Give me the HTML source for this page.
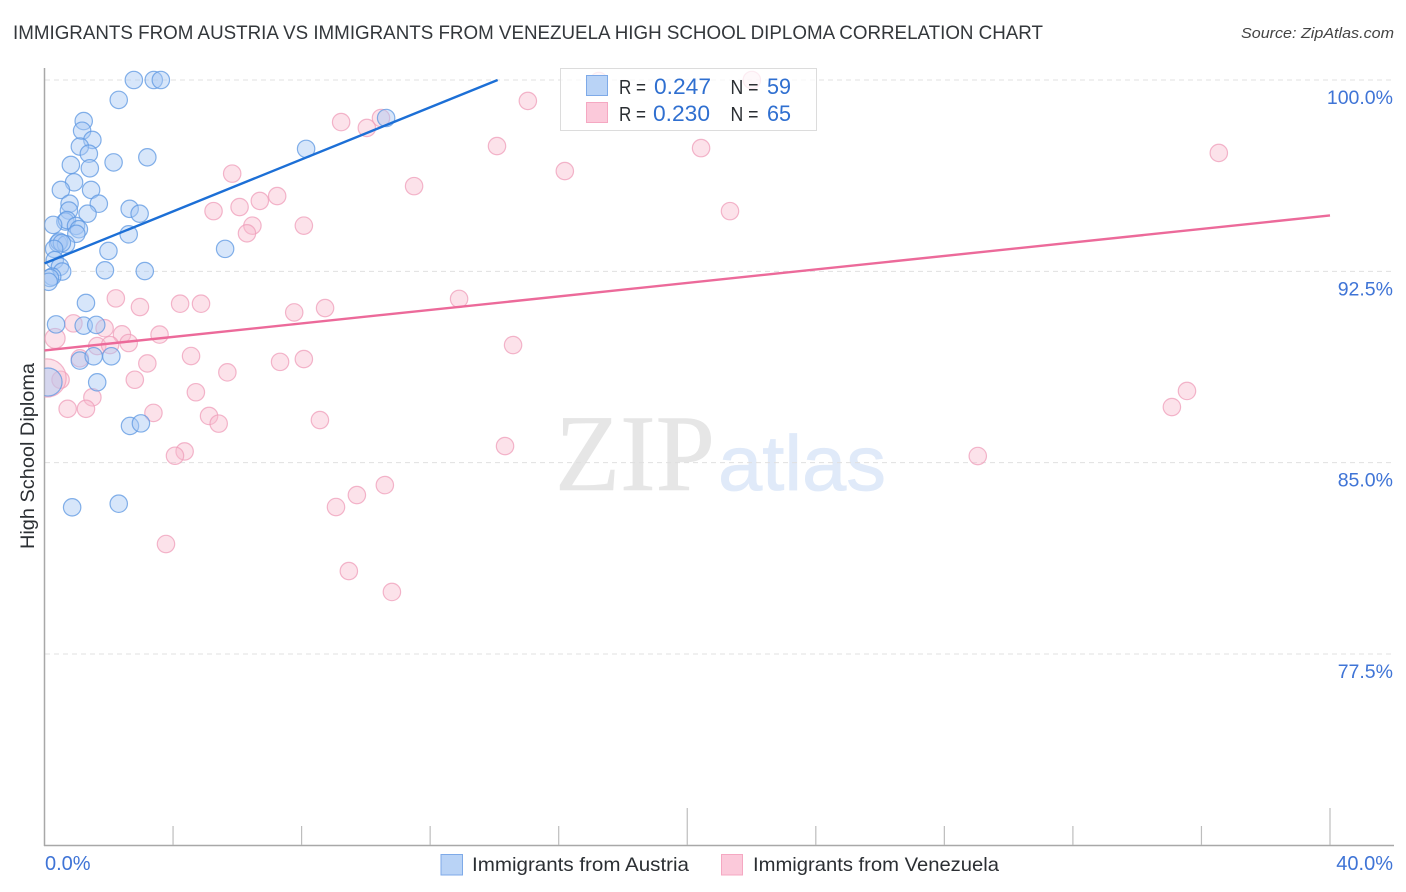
<!DOCTYPE html>
<html lang="en">
<head>
<meta charset="utf-8">
<title>Immigrants from Austria vs Immigrants from Venezuela High School Diploma Correlation Chart</title>
<style>
html,body{margin:0;padding:0;background:#fff;width:1406px;height:892px;overflow:hidden}
svg{display:block;font-family:"Liberation Sans",sans-serif}
</style>
</head>
<body>
<svg id="chart" width="1406" height="892" viewBox="0 0 1406 892" xmlns="http://www.w3.org/2000/svg">
  <defs>
    <clipPath id="plot-clip"><rect x="44.5" y="60" width="1350" height="785"/></clipPath>
  </defs>
  <rect x="0" y="0" width="1406" height="892" fill="#fff"/>
  <text x="13" y="39" font-size="19" fill="#33373b" textLength="1030" lengthAdjust="spacingAndGlyphs">IMMIGRANTS FROM AUSTRIA VS IMMIGRANTS FROM VENEZUELA HIGH SCHOOL DIPLOMA CORRELATION CHART</text>
  <text x="1394" y="38" font-size="15" font-style="italic" fill="#444" text-anchor="end" textLength="153" lengthAdjust="spacingAndGlyphs">Source: ZipAtlas.com</text>

  <g>
    <text x="555" y="490" font-family="'Liberation Serif',serif" font-size="109" fill="#e6e6e6" stroke="#e6e6e6" stroke-width="0.6" textLength="160" lengthAdjust="spacingAndGlyphs">ZIP</text>
    <text x="718" y="490" font-family="'Liberation Sans',sans-serif" font-size="78" fill="#e0eaf9" stroke="#e0eaf9" stroke-width="0.8" textLength="168" lengthAdjust="spacingAndGlyphs">atlas</text>
  </g>

  <g id="grid"></g>
  <g id="axes"></g>
  <g id="marks" clip-path="url(#plot-clip)"></g>
  <g id="trends"></g>

  <text transform="translate(34,456) rotate(-90)" font-size="19.5" fill="#2b2f33" text-anchor="middle" textLength="186" lengthAdjust="spacingAndGlyphs">High School Diploma</text>

  <g>
    <rect x="560.5" y="68.5" width="256" height="62" fill="#fff" fill-opacity="0.75" stroke="#dcdcdc" stroke-width="1"/>
    <rect x="586.5" y="75.5" width="21" height="20" fill="#b9d3f6" stroke="#7eaae8" stroke-width="1"/>
    <rect x="586.5" y="102.5" width="21" height="20" fill="#fbc9da" stroke="#f5a8c2" stroke-width="1"/>
    <text x="619" y="94" font-size="20" fill="#2b2f33" textLength="27" lengthAdjust="spacingAndGlyphs">R =</text>
    <text x="654" y="94" font-size="22" fill="#2f6fd0" textLength="57" lengthAdjust="spacingAndGlyphs">0.247</text>
    <text x="730.5" y="94" font-size="20" fill="#2b2f33" textLength="28" lengthAdjust="spacingAndGlyphs">N =</text>
    <text x="767" y="94" font-size="22" fill="#2f6fd0" textLength="24" lengthAdjust="spacingAndGlyphs">59</text>
    <text x="619" y="121" font-size="20" fill="#2b2f33" textLength="27" lengthAdjust="spacingAndGlyphs">R =</text>
    <text x="653" y="121" font-size="22" fill="#2f6fd0" textLength="57" lengthAdjust="spacingAndGlyphs">0.230</text>
    <text x="730.5" y="121" font-size="20" fill="#2b2f33" textLength="28" lengthAdjust="spacingAndGlyphs">N =</text>
    <text x="767" y="121" font-size="22" fill="#2f6fd0" textLength="24" lengthAdjust="spacingAndGlyphs">65</text>
  </g>

  <g>
    <rect x="441" y="854.5" width="21.5" height="20.5" fill="#b9d3f6" stroke="#7eaae8" stroke-width="1"/>
    <text x="472" y="871" font-size="19.5" fill="#2b2f33" textLength="217" lengthAdjust="spacingAndGlyphs">Immigrants from Austria</text>
    <rect x="721.5" y="854.5" width="21" height="20.5" fill="#fbc9da" stroke="#f5a8c2" stroke-width="1"/>
    <text x="753" y="871" font-size="19.5" fill="#2b2f33" textLength="246" lengthAdjust="spacingAndGlyphs">Immigrants from Venezuela</text>
  </g>
</svg>
<script>
const austriaX = [2.78,3.40,3.62,2.31,1.22,1.17,1.49,1.10,1.38,2.15,3.20,0.82,1.41,0.92,0.51,1.45,1.69,0.78,0.76,1.34,2.65,2.96,0.65,0.70,0.27,0.98,1.07,0.99,2.62,0.42,0.46,0.67,0.54,0.30,1.99,5.62,0.32,0.48,0.55,1.88,3.12,0.24,0.17,0.13,1.29,0.36,1.22,1.61,1.10,1.53,2.08,1.64,2.66,3.00,0.86,2.31,8.14,10.63,0.11];
const austriaY = [100,100,100,99.22,98.39,98.01,97.65,97.39,97.11,96.77,96.97,96.67,96.54,95.99,95.69,95.69,95.15,95.15,94.88,94.76,94.95,94.76,94.45,94.51,94.32,94.28,94.15,93.97,93.95,93.60,93.66,93.56,93.61,93.38,93.30,93.38,92.94,92.68,92.49,92.54,92.51,92.29,92.24,92.09,91.26,90.42,90.37,90.40,89.00,89.17,89.17,88.15,86.44,86.54,83.25,83.39,97.30,98.51,88.16];
const austriaWeight = [1,1,1,1,1,1,1,1,1,1,1,1,1,1,1,1,1,1,1,1,1,1,1,1,1,1,1,1,1,1,1,1,1,1,1,1,1,1,1,1,1,1,1,1,1,1,1,1,1,1,1,1,1,1,1,1,1,1,2.6];

const venezuelaX = [5.84,5.26,6.07,6.70,7.24,6.47,6.30,8.07,2.22,2.97,4.22,4.87,7.77,0.90,1.87,2.41,3.58,0.33,1.64,2.04,2.62,1.10,3.20,4.56,5.69,7.33,8.07,2.81,0.50,4.71,1.49,0.72,1.29,3.39,5.12,5.42,4.36,4.06,0.08,22.01,17.25,20.43,15.04,14.08,16.19,11.50,9.23,10.03,10.47,12.90,14.58,8.73,14.33,8.57,36.54,21.33,35.55,35.08,29.04,10.59,9.72,9.07,3.78,9.47,10.81];
const venezuelaY = [96.33,94.86,95.02,95.26,95.45,94.29,93.99,94.29,91.44,91.10,91.23,91.23,90.89,90.46,90.27,90.03,90.02,89.87,89.57,89.61,89.69,89.09,88.89,89.18,88.54,88.95,89.06,88.25,88.25,87.76,87.56,87.11,87.11,86.95,86.83,86.53,85.44,85.27,88.32,100,99.96,97.33,99.18,97.41,96.43,95.84,98.35,98.12,98.51,91.42,89.61,91.06,85.65,86.67,97.14,94.86,87.81,87.18,85.26,84.12,83.73,83.26,81.81,80.75,79.93];
const venezuelaWeight = [1,1,1,1,1,1,1,1,1,1,1,1,1,1,1,1,1,1.32,1,1,1,1,1,1,1,1,1,1,1,1,1,1,1,1,1,1,1,1,4.8,1,1,1,1,1,1,1,1,1,1,1,1,1,1,1,1,1,1,1,1,1,1,1,1,1,1];

const austriaTrendX = [0, 14.1];
const austriaTrendY = [92.81, 100];
const venezuelaTrendX = [0, 40];
const venezuelaTrendY = [89.40, 94.69];

const yTicks = [100, 92.5, 85, 77.5];
const yTickLabels = ['100.0%', '92.5%', '85.0%', '77.5%'];
const xTicks = [0, 4, 8, 12, 16, 20, 24, 28, 32, 36, 40];
const xMajorTicks = [20, 40];
const xEndLabels = ['0.0%', '40.0%'];

const SVGNS = 'http://www.w3.org/2000/svg';
function xScale(v) { return 44.5 + v * 32.1375; }
function yScale(v) { return 80 + (100 - v) * 25.51; }
function make(parent, tag, attrs, text) {
  const el = document.createElementNS(SVGNS, tag);
  for (const k in attrs) el.setAttribute(k, attrs[k]);
  if (text !== undefined) el.textContent = text;
  parent.appendChild(el);
  return el;
}

const grid = document.getElementById('grid');
const axes = document.getElementById('axes');
const marks = document.getElementById('marks');
const trends = document.getElementById('trends');

yTicks.forEach(function (t, i) {
  const line = make(grid, 'line', {x1: 45, x2: 1394, y1: yScale(t), y2: yScale(t), stroke: '#e0e0e0', 'stroke-width': 1, 'stroke-dasharray': '5 4'});
  
  
  const label = make(axes, 'text', {x: 1393, y: yScale(t) + 24, 'text-anchor': 'end', 'font-size': 19.5, fill: '#3f74d6'}, yTickLabels[i]);
  
  
});

const yAxisLine = make(axes, 'line', {x1: 44.5, x2: 44.5, y1: 68, y2: 846, stroke: '#a8a8a8', 'stroke-width': 1.5});


const xAxisLine = make(axes, 'line', {x1: 44, x2: 1394, y1: 845.5, y2: 845.5, stroke: '#a8a8a8', 'stroke-width': 1.5});



xTicks.forEach(function (t) {
  if (t === 0) return;
  const top = xMajorTicks.indexOf(t) >= 0 ? 808 : 826;
  const tick = make(axes, 'line', {x1: xScale(t), x2: xScale(t), y1: top, y2: 845, stroke: '#bdbdbd', 'stroke-width': 1.2});
  
  
});

const xLabelLeft = make(axes, 'text', {x: 45, y: 870, 'font-size': 20, fill: '#3f74d6'}, xEndLabels[0]);


const xLabelRight = make(axes, 'text', {x: 1393, y: 870, 'text-anchor': 'end', 'font-size': 20, fill: '#3f74d6'}, xEndLabels[1]);



function radius(w) { return 8.7 * Math.sqrt(w); }

venezuelaX.forEach(function (v, i) {
  const c = make(marks, 'circle', {cx: xScale(v), cy: yScale(venezuelaY[i]), r: radius(venezuelaWeight[i]), fill: '#f9b9ce', 'fill-opacity': 0.42, stroke: '#ef9db9', 'stroke-opacity': 0.75, 'stroke-width': 1.2});
  
  
});
austriaX.forEach(function (v, i) {
  const c = make(marks, 'circle', {cx: xScale(v), cy: yScale(austriaY[i]), r: radius(austriaWeight[i]), fill: '#a6c8f3', 'fill-opacity': 0.45, stroke: '#5c97e2', 'stroke-opacity': 0.75, 'stroke-width': 1.2});
  
  
});

const trendAustria = make(trends, 'line', {x1: xScale(austriaTrendX[0]), y1: yScale(austriaTrendY[0]), x2: xScale(austriaTrendX[1]), y2: yScale(austriaTrendY[1]), stroke: '#1c6fd6', 'stroke-width': 2.4});


const trendVenezuela = make(trends, 'line', {x1: xScale(venezuelaTrendX[0]), y1: yScale(venezuelaTrendY[0]), x2: xScale(venezuelaTrendX[1]), y2: yScale(venezuelaTrendY[1]), stroke: '#ec6a9a', 'stroke-width': 2.4});


</script>
</body>
</html>
